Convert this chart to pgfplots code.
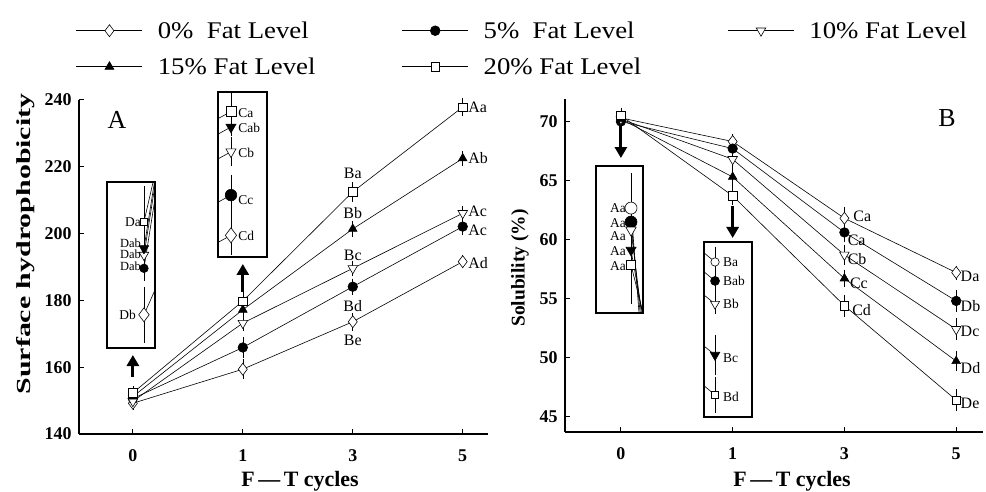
\documentclass[border=0pt]{standalone}
\usepackage{fontspec}
\setmainfont{Liberation Serif}
\usepackage{graphicx}
\usepackage{pgfplots}
\pgfplotsset{compat=1.18}
\usetikzlibrary{arrows.meta}

\newcommand\lbl{\fontsize{16}{16}\selectfont}
\newcommand\ilbl{\fontsize{13.5}{13.5}\selectfont}
\newcommand\legtxt[1]{\hspace*{13bp}\makebox[200bp][l]{\scalebox{1.12}[1]{\fontsize{24}{24}\selectfont #1}}}

\pgfplotsset{
  mainax/.style={scale only axis, axis lines=left, axis line style={-, line width=1.8pt},
    tick align=inside, major tick length=5bp, tick style={black, line width=1pt},
    xtick={0,1,2,3}, xticklabels={0,1,3,5},
    tick label style={font=\bfseries\fontsize{18}{18}\selectfont},
    /pgf/number format/assume math mode=true,
    xticklabel style={yshift=-12bp}, yticklabel style={xshift=-4bp}, clip=false},
  inset/.style={scale only axis, xmin=0, xmax=1, xtick=\empty, ytick=\empty,
    axis line style={line width=1.8pt}, axis background/.style={fill=white}},
  ln/.style={black, line width=0.6pt, mark=none},
  eb/.style={error bars/.cd, y dir=both, y explicit, error mark=-,
    error mark options={black, solid, line width=0.6pt, mark size=4bp},
    error bar style={black, solid, line width=0.6pt}},
  m0/.style={black, line width=0.6pt, mark=diamond*, mark size=#1, mark options={solid, fill=white, draw=black, line width=0.6pt}},
  m0/.default=6bp,
  m5/.style={black, line width=0.6pt, mark=*, mark size=#1, mark options={solid, fill=black, draw=black}},
  m5/.default=4.8bp,
  mo/.style={black, line width=0.6pt, mark=*, mark size=#1, mark options={solid, fill=white, draw=black, line width=0.6pt}},
  mo/.default=5bp,
  m10/.style={black, line width=0.6pt, mark=triangle*, mark size=#1, mark options={solid, fill=white, draw=black, rotate=180, line width=0.6pt}},
  m10/.default=5.5bp,
  m15/.style={black, line width=0.6pt, mark=triangle*, mark size=#1, mark options={solid, fill=black, draw=black}},
  m15/.default=5bp,
  m15d/.style={black, line width=0.6pt, mark=triangle*, mark size=#1, mark options={solid, fill=black, draw=black, rotate=180}},
  m15d/.default=5.5bp,
  m20/.style={black, line width=0.6pt, mark=square*, mark size=#1, mark options={solid, fill=white, draw=black, line width=0.6pt}},
  m20/.default=4.2bp,
}

\begin{document}
\begin{tikzpicture}
\useasboundingbox (0bp,0bp) rectangle (986bp,492bp);

% ---------------- Panel A ----------------
\begin{axis}[mainax, name=A, at={(79bp,58bp)}, anchor=south west,
  width=409bp, height=334bp, xmin=-0.49, xmax=3.23, ymin=140, ymax=240,
  ytick={140,160,180,200,220,240},
  legend columns=3, legend cell align=left,
  legend style={at={(-0.015,1.247)}, anchor=north west, draw=none, fill=none,
    /tikz/every even column/.append style={column sep=42bp}, /tikz/row sep=14bp},
  legend image code/.code={\draw[line width=0.8pt, mark repeat=2,mark phase=2,#1] plot coordinates {(0bp,0bp) (33bp,0bp) (66bp,0bp)};}]
\addplot[m0, eb] coordinates {(0,149.2) +- (0,0.8) (1,159.4) +- (0,1.8) (2,173.6) +- (0,1.5) (3,191.6) +- (0,0.8)};
\addlegendentry{\legtxt{0\%\ \ Fat Level}}
\addplot[m5, eb] coordinates {(0,150.6) +- (0,0.8) (1,165.9) +- (0,2.0) (2,184.1) +- (0,1.2) (3,202.1) +- (0,1.3)};
\addlegendentry{\legtxt{5\%\ \ Fat Level}}
\addplot[m10, eb] coordinates {(0,149.8) +- (0,0.8) (1,173.2) +- (0,1.2) (2,189.6) +- (0,1.0) (3,206.1) +- (0,1.0)};
\addlegendentry{\legtxt{10\% Fat Level}}
\addplot[m15, eb] coordinates {(0,151.2) +- (0,0.8) (1,177.2) +- (0,1.0) (2,201.4) +- (0,1.2) (3,222.5) +- (0,1.0)};
\addlegendentry{\legtxt{15\% Fat Level}}
\addplot[m20, eb] coordinates {(0,152.3) +- (0,0.8) (1,179.8) +- (0,1.5) (2,212.5) +- (0,1.8) (3,237.9) +- (0,1.5)};
\addlegendentry{\legtxt{20\% Fat Level}}
\node[font=\lbl] at (axis cs:2,218.1) {Ba};
\node[font=\lbl] at (axis cs:2,206.2) {Bb};
\node[font=\lbl] at (axis cs:2,193.6) {Bc};
\node[font=\lbl] at (axis cs:2,178.3) {Bd};
\node[font=\lbl] at (axis cs:2,168.1) {Be};
\node[font=\lbl, anchor=west, inner sep=1bp] at (axis cs:3.04,237.9) {Aa};
\node[font=\lbl, anchor=west, inner sep=1bp] at (axis cs:3.04,222.6) {Ab};
\node[font=\lbl, anchor=west, inner sep=1bp] at (axis cs:3.04,206.8) {Ac};
\node[font=\lbl, anchor=west, inner sep=1bp] at (axis cs:3.04,201.1) {Ac};
\node[font=\lbl, anchor=west, inner sep=1bp] at (axis cs:3.04,191.2) {Ad};
\draw[line width=3bp, -{Triangle[width=12bp,length=11bp]}] (axis cs:0,157.2) -- (axis cs:0,163.65);
\draw[line width=3bp, -{Triangle[width=12bp,length=11bp]}] (axis cs:1,182.5) -- (axis cs:1,190.9);
\end{axis}

% inset A1 (x = 0)
\begin{axis}[inset, at={(107bp,144bp)}, anchor=south west, width=48bp, height=166bp, ymin=146, ymax=156]
\addplot[ln] coordinates {(0.77,153.6) (1.0,156.5)};
\addplot[ln] coordinates {(0.77,152.0) (1.0,156.2)};
\addplot[ln] coordinates {(0.77,151.6) (1.0,155.8)};
\addplot[ln] coordinates {(0.77,150.8) (1.0,155.0)};
\addplot[ln] coordinates {(0.77,148.0) (1.0,149.5)};
\addplot[m20=3.8bp, only marks, eb] coordinates {(0.77,153.6) +- (0,1.9)};
\addplot[m10=5.5bp, only marks, eb] coordinates {(0.77,151.6) +- (0,0.5)};
\addplot[m15d=5.5bp, only marks, eb] coordinates {(0.77,152.0) +- (0,0.5)};
\addplot[m5=4.3bp, only marks, eb] coordinates {(0.77,150.8) +- (0,0.5)};
\addplot[m0=7bp, only marks, eb] coordinates {(0.77,148.0) +- (0,1.45)};
\node[font=\ilbl, anchor=east, inner sep=1bp] at (axis cs:0.73,153.6) {Da};
\node[font=\fontsize{12.5}{12.5}\selectfont, anchor=east, inner sep=0bp] at (axis cs:0.71,152.3) {Dab};
\node[font=\fontsize{12.5}{12.5}\selectfont, anchor=east, inner sep=0bp] at (axis cs:0.71,151.66) {Dab};
\node[font=\fontsize{12.5}{12.5}\selectfont, anchor=east, inner sep=0bp] at (axis cs:0.71,150.95) {Dab};
\node[font=\ilbl, anchor=east, inner sep=1bp] at (axis cs:0.625,148.0) {Db};
\end{axis}

% inset A2 (x = 1)
\begin{axis}[inset, at={(218bp,235bp)}, anchor=south west, width=49bp, height=165bp, ymin=170, ymax=186]
\addplot[ln] coordinates {(-0.2,182.9) (0.265,184.1)};
\addplot[ln] coordinates {(-0.2,181.4) (0.265,182.6)};
\addplot[ln] coordinates {(-0.2,179.0) (0.265,180.2)};
\addplot[ln] coordinates {(-0.2,174.8) (0.265,176.0)};
\addplot[ln] coordinates {(-0.2,170.9) (0.265,172.1)};
\addplot[m20=5bp, only marks, eb] coordinates {(0.265,184.1) +- (0,1.5)};
\addplot[m15d=5.8bp, only marks, eb] coordinates {(0.265,182.6) +- (0,0.5)};
\addplot[m10=5.8bp, only marks, eb] coordinates {(0.265,180.2) +- (0,1.0)};
\addplot[m5=5.8bp, only marks, eb] coordinates {(0.265,176.0) +- (0,1.6)};
\addplot[m0=7.5bp, only marks, eb] coordinates {(0.265,172.1) +- (0,1.5)};
\node[font=\ilbl, anchor=west, inner sep=1bp] at (axis cs:0.39,183.97) {Ca};
\node[font=\ilbl, anchor=west, inner sep=1bp] at (axis cs:0.39,182.5) {Cab};
\node[font=\ilbl, anchor=west, inner sep=1bp] at (axis cs:0.39,180.1) {Cb};
\node[font=\ilbl, anchor=west, inner sep=1bp] at (axis cs:0.39,175.5) {Cc};
\node[font=\ilbl, anchor=west, inner sep=1bp] at (axis cs:0.39,172.0) {Cd};
\end{axis}

% ---------------- Panel B ----------------
\begin{axis}[mainax, name=B, at={(565bp,60bp)}, anchor=south west,
  width=418bp, height=333bp, xmin=-0.5, xmax=3.24, ymin=43.7, ymax=71.9,
  ytick={45,50,55,60,65,70}]
\addplot[m0, eb] coordinates {(0,70.3) +- (0,0.3) (1,68.3) +- (0,0.3) (2,61.8) +- (0,0.6) (3,57.2) +- (0,0.25)};
\addplot[m5, eb] coordinates {(0,70.0) +- (0,0.3) (1,67.7) +- (0,0.4) (2,60.6) +- (0,0.5) (3,54.8) +- (0,0.6)};
\addplot[m10, eb] coordinates {(0,70.2) +- (0,0.3) (1,66.8) +- (0,0.3) (2,58.7) +- (0,0.5) (3,52.4) +- (0,0.6)};
\addplot[m15, eb] coordinates {(0,70.2) +- (0,0.3) (1,65.3) +- (0,0.5) (2,56.7) +- (0,0.4) (3,49.7) +- (0,0.5)};
\addplot[m20, eb] coordinates {(0,70.5) +- (0,0.3) (1,63.7) +- (0,0.4) (2,54.4) +- (0,0.6) (3,46.4) +- (0,0.6)};
\node[font=\lbl, anchor=west, inner sep=1bp] at (axis cs:2.07,61.93) {Ca};
\node[font=\lbl, anchor=west, inner sep=1bp] at (axis cs:2.02,59.92) {Ca};
\node[font=\lbl, anchor=west, inner sep=1bp] at (axis cs:2.02,58.35) {Cb};
\node[font=\lbl, anchor=west, inner sep=1bp] at (axis cs:2.04,56.32) {Cc};
\node[font=\lbl, anchor=west, inner sep=1bp] at (axis cs:2.06,54.0) {Cd};
\node[font=\lbl, anchor=west, inner sep=1bp] at (axis cs:3.03,56.88) {Da};
\node[font=\lbl, anchor=west, inner sep=1bp] at (axis cs:3.03,54.39) {Db};
\node[font=\lbl, anchor=west, inner sep=1bp] at (axis cs:3.03,52.22) {Dc};
\node[font=\lbl, anchor=west, inner sep=1bp] at (axis cs:3.03,49.12) {Dd};
\node[font=\lbl, anchor=west, inner sep=1bp] at (axis cs:3.03,46.16) {De};
\draw[line width=3bp, -{Triangle[width=12bp,length=11bp]}] (axis cs:0,69.58) -- (axis cs:0,66.90);
\draw[line width=3bp, -{Triangle[width=12bp,length=11bp]}] (axis cs:1,62.8) -- (axis cs:1,60.13);
\end{axis}

% inset B1 (x = 0)
\begin{axis}[inset, at={(596bp,179bp)}, anchor=south west, width=47bp, height=147bp, ymin=66, ymax=74]
\addplot[ln] coordinates {(0.745,71.71) (0.93,65.5)};
\addplot[ln] coordinates {(0.745,70.95) (0.96,65.5)};
\addplot[ln] coordinates {(0.745,70.51) (0.99,65.5)};
\addplot[ln] coordinates {(0.745,69.42) (1.02,65.5)};
\addplot[ln] coordinates {(0.745,68.61) (1.05,65.5)};
\addplot[mo=6bp, only marks, eb] coordinates {(0.745,71.71) +- (0,1.7)};
\addplot[m5=6bp, only marks, eb] coordinates {(0.745,70.95) +- (0,2.1)};
\addplot[m10=6bp, only marks, eb] coordinates {(0.745,70.51) +- (0,2.2)};
\addplot[m15d=5.8bp, only marks, eb] coordinates {(0.745,69.42) +- (0,2.0)};
\addplot[m20=4.3bp, only marks, eb] coordinates {(0.745,68.61) +- (0,1.9)};
\node[font=\ilbl, anchor=east, inner sep=1bp] at (axis cs:0.66,71.71) {Aa};
\node[font=\ilbl, anchor=east, inner sep=1bp] at (axis cs:0.66,70.89) {Aa};
\node[font=\ilbl, anchor=east, inner sep=1bp] at (axis cs:0.66,70.18) {Aa};
\node[font=\ilbl, anchor=east, inner sep=1bp] at (axis cs:0.66,69.37) {Aa};
\node[font=\ilbl, anchor=east, inner sep=1bp] at (axis cs:0.66,68.55) {Aa};
\end{axis}

% inset B2 (x = 1)
\begin{axis}[inset, at={(704bp,75bp)}, anchor=south west, width=48bp, height=175bp, ymin=58, ymax=70]
\addplot[ln] coordinates {(-0.2,69.8) (0.23,68.63)};
\addplot[ln] coordinates {(-0.2,68.5) (0.23,67.33)};
\addplot[ln] coordinates {(-0.2,66.9) (0.23,65.75)};
\addplot[ln] coordinates {(-0.2,63.4) (0.23,62.25)};
\addplot[ln] coordinates {(-0.2,60.7) (0.23,59.51)};
\addplot[mo=4.2bp, only marks, eb] coordinates {(0.23,68.63) +- (0,0.75)};
\addplot[m5=4.5bp, only marks, eb] coordinates {(0.23,67.33) +- (0,0.7)};
\addplot[m10=5.2bp, only marks, eb] coordinates {(0.23,65.75) +- (0,0.4)};
\addplot[m15d=5.5bp, only marks, eb] coordinates {(0.23,62.25) +- (0,1.1)};
\addplot[m20=3.6bp, only marks, eb] coordinates {(0.23,59.51) +- (0,0.95)};
\node[font=\ilbl, anchor=west, inner sep=1bp] at (axis cs:0.375,68.63) {Ba};
\node[font=\ilbl, anchor=west, inner sep=1bp] at (axis cs:0.375,67.33) {Bab};
\node[font=\ilbl, anchor=west, inner sep=1bp] at (axis cs:0.375,65.75) {Bb};
\node[font=\ilbl, anchor=west, inner sep=1bp] at (axis cs:0.375,62.05) {Bc};
\node[font=\ilbl, anchor=west, inner sep=1bp] at (axis cs:0.375,59.39) {Bd};
\end{axis}

% ---------------- labels ----------------
\node[font=\fontsize{26}{26}\selectfont] at (117bp,372bp) {A};
\node[font=\fontsize{26}{26}\selectfont] at (947bp,374bp) {B};
\node[rotate=90] at (26bp,248bp) {\scalebox{1.5}[1]{\bfseries\fontsize{20}{20}\selectfont Surface hydrophobicity}};
\node[rotate=90, font=\bfseries\fontsize{19.5}{19.5}\selectfont] at (520bp,224bp) {Solubility (\%)};
\node[anchor=base, font=\bfseries\fontsize{22}{22}\selectfont] at (300bp,6bp) {F\,—\,T cycles};
\node[anchor=base, font=\bfseries\fontsize{22}{22}\selectfont] at (792bp,6bp) {F\,—\,T cycles};
\end{tikzpicture}
\end{document}
